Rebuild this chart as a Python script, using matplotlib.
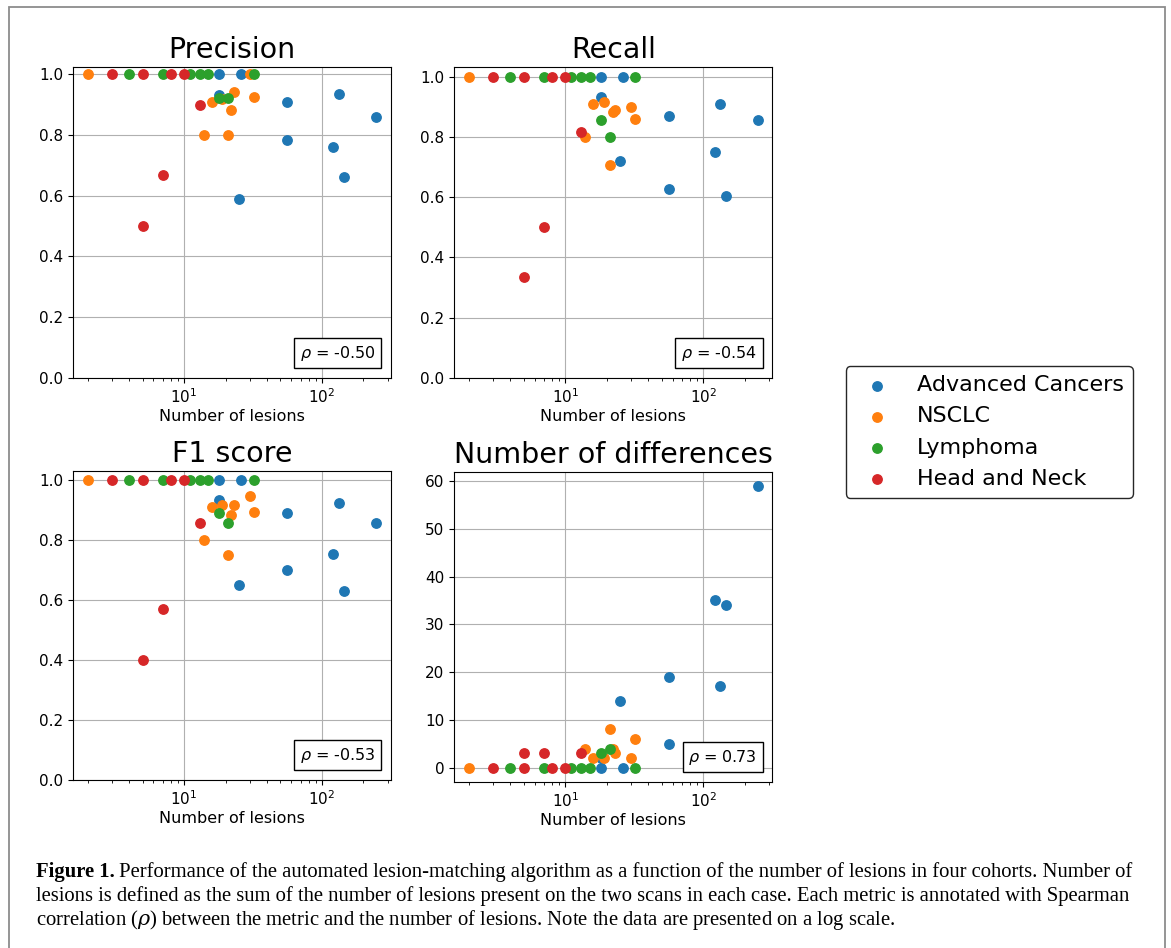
import matplotlib
matplotlib.use('Agg')
import matplotlib.pyplot as plt
from matplotlib.patches import Rectangle
from matplotlib.offsetbox import AnchoredText

# cohort data: number of lesions and the four metrics
adv_n = [18, 18, 25, 26, 56, 56, 121, 132, 145, 248]
adv_precision = [1.0, 0.931, 0.59, 1.0, 0.909, 0.785, 0.76, 0.935, 0.66, 0.859]
adv_recall = [1.0, 0.933, 0.721, 1.0, 0.869, 0.628, 0.749, 0.908, 0.605, 0.856]
adv_f1 = [1.0, 0.932, 0.649, 1.0, 0.889, 0.698, 0.754, 0.921, 0.631, 0.857]
adv_diff = [0, 2, 14, 0, 5, 19, 35, 17, 34, 59]

nsclc_n = [2, 14, 16, 19, 21, 22, 23, 30, 32]
nsclc_precision = [1.0, 0.8, 0.909, 0.917, 0.8, 0.882, 0.942, 1.0, 0.925]
nsclc_recall = [1.0, 0.8, 0.909, 0.916, 0.706, 0.882, 0.889, 0.9, 0.861]
nsclc_f1 = [1.0, 0.8, 0.909, 0.917, 0.75, 0.882, 0.915, 0.947, 0.892]
nsclc_diff = [0, 4, 2, 2, 8, 4, 3, 2, 6]

lymph_n = [4, 7, 11, 13, 15, 18, 21, 32]
lymph_precision = [1.0, 1.0, 1.0, 1.0, 1.0, 0.923, 0.923, 1.0]
lymph_recall = [1.0, 1.0, 1.0, 1.0, 1.0, 0.857, 0.8, 1.0]
lymph_f1 = [1.0, 1.0, 1.0, 1.0, 1.0, 0.889, 0.857, 1.0]
lymph_diff = [0, 0, 0, 0, 0, 3, 4, 0]

hn_n = [3, 5, 5, 7, 8, 10, 13]
hn_precision = [1.0, 1.0, 0.5, 0.667, 1.0, 1.0, 0.9]
hn_recall = [1.0, 1.0, 0.333, 0.5, 1.0, 1.0, 0.818]
hn_f1 = [1.0, 1.0, 0.4, 0.571, 1.0, 1.0, 0.857]
hn_diff = [0, 0, 3, 3, 0, 0, 3]

cohort_names = ['Advanced Cancers', 'NSCLC', 'Lymphoma', 'Head and Neck']
cohort_colors = ['tab:blue', 'tab:orange', 'tab:green', 'tab:red']
cohort_n = [adv_n, nsclc_n, lymph_n, hn_n]

panel_titles = ['Precision', 'Recall', 'F1 score', 'Number of differences']
panel_values = [
    [adv_precision, nsclc_precision, lymph_precision, hn_precision],
    [adv_recall, nsclc_recall, lymph_recall, hn_recall],
    [adv_f1, nsclc_f1, lymph_f1, hn_f1],
    [adv_diff, nsclc_diff, lymph_diff, hn_diff],
]
rho_values = [-0.50, -0.54, -0.53, 0.73]

W, H = 1171, 948
fig = plt.figure(figsize=(W / 100, H / 100), dpi=100)

# axes boxes in pixels: left, top, right, bottom
boxes = [
    (73.3, 66.7, 390.7, 377.7),
    (454.3, 66.7, 772.3, 377.7),
    (73.3, 470.7, 390.7, 780.0),
    (454.3, 471.7, 772.3, 781.7),
]

handles = []
for k in range(4):
    l, t, r, b = boxes[k]
    ax = fig.add_axes([l / W, 1 - b / H, (r - l) / W, (b - t) / H])
    for c in range(4):
        sc = ax.scatter(cohort_n[c], panel_values[k][c], s=46,
                        color=cohort_colors[c], label=cohort_names[c], zorder=3)
        if k == 0:
            handles.append(sc)
    ax.set_xscale('log')
    if k < 3:
        ax.set_ylim(bottom=0)
        ax.set_yticks([0.0, 0.2, 0.4, 0.6, 0.8, 1.0])
    ax.grid(True, zorder=0)
    ax.set_axisbelow(True)
    ax.set_title(panel_titles[k], fontsize=20.5, pad=6)
    ax.set_xlabel('Number of lesions', fontsize=11.5, labelpad=2)
    ax.tick_params(labelsize=11)
    at = AnchoredText(r'$\rho$ = %.2f' % rho_values[k], loc='lower right',
                      prop=dict(size=11.5), frameon=True, pad=0.35, borderpad=0.6)
    at.patch.set_boxstyle('square,pad=0')
    at.patch.set_edgecolor('black')
    ax.add_artist(at)

fig.legend(handles, cohort_names, loc='center', bbox_to_anchor=(0.8446, 0.5443),
           fontsize=16, scatterpoints=1, edgecolor='0.15', framealpha=1,
           labelspacing=0.5)

# caption below the panels
caption_lines = [
    'Performance of the automated lesion-matching algorithm as a function of the number of lesions in four cohorts. Number of',
    'lesions is defined as the sum of the number of lesions present on the two scans in each case. Each metric is annotated with Spearman',
    r'correlation ($\rho$) between the metric and the number of lesions. Note the data are presented on a log scale.',
]
serif = ['Liberation Serif', 'DejaVu Serif']
renderer = fig.canvas.get_renderer()
x0 = 36
target_w = 1128 - x0
size = 13
probe_b = fig.text(0, 0, 'Figure 1. ', fontsize=size, fontweight='bold', family=serif)
probe_t = fig.text(0, 0, caption_lines[0], fontsize=size, family=serif)
w_total = probe_b.get_window_extent(renderer).width + probe_t.get_window_extent(renderer).width
probe_b.remove()
probe_t.remove()
size = size * target_w / w_total

baselines = [877, 901, 925]
bold = fig.text(x0 / W, 1 - baselines[0] / H, 'Figure 1.', fontsize=size,
                fontweight='bold', family=serif, va='baseline')
bw = bold.get_window_extent(renderer).width
fig.text((x0 + bw + size * 0.3) / W, 1 - baselines[0] / H, caption_lines[0],
         fontsize=size, family=serif, va='baseline', math_fontfamily='dejavuserif')
for i in (1, 2):
    fig.text(x0 / W, 1 - baselines[i] / H, caption_lines[i], fontsize=size,
             family=serif, va='baseline', math_fontfamily='dejavuserif')

# grey frame around the whole figure
fig.patches.append(Rectangle((9 / W, -0.05), (1165 - 9) / W, 1.05 - 7 / H,
                             transform=fig.transFigure, fill=False,
                             edgecolor='#8c8c8c', linewidth=1.3))

fig.savefig('out.png', dpi=100)
